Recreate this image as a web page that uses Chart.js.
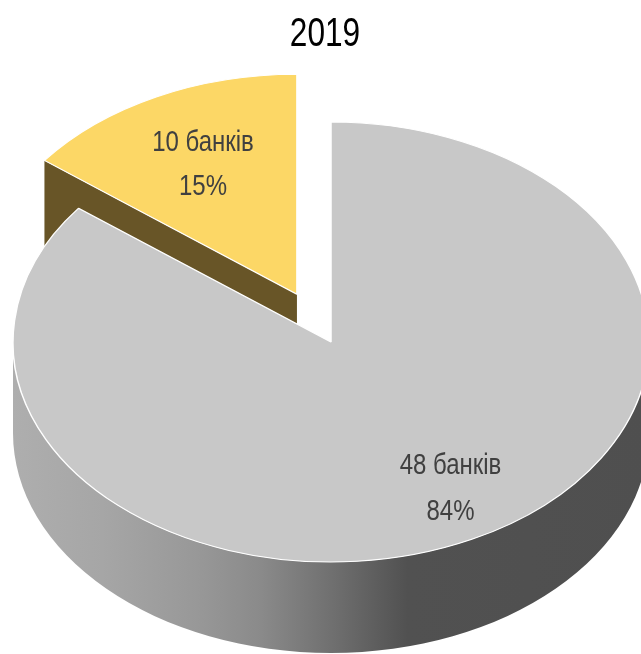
<!DOCTYPE html>
<html>
<head>
<meta charset="utf-8">
<title>2019</title>
<script src="https://cdn.jsdelivr.net/npm/chart.js@4/dist/chart.umd.min.js"></script>
<style>
html, body { margin: 0; padding: 0; background: #fff; overflow: hidden; }
#wrap { width: 641px; height: 654px; }
</style>
</head>
<body>
<div id="wrap"><canvas id="pieChart"></canvas></div>
<script>
// ======================
// DATA
// ======================

const title = "2019";
const banks = [10, 48];
const percents = [15, 84];
const shares = [14.6, 85.4];   // slice sizes as measured on the picture
const sliceColors = ["#fcd766", "#c8c8c8"];

// ======================
// 3D LOOK
// ======================

const radius = 318;
const squash = 0.692;      // ellipse height / width
const depth = 91;          // height of the pie wall
const screenCy = 342;      // where the pie centre lands on the page
const explode = 77;        // yellow slice pulled out along its middle angle
const sideColor = "#685527";
const textColor = "#404040";
const fontFamily = "'Liberation Sans', sans-serif";
const labelPlaces = [[203, 150.5, 194.5], [450.5, 473.5, 519.5]];

function toScreen(chart, x, y) {
    const cy = (chart.chartArea.top + chart.chartArea.bottom) / 2;
    return { x: x, y: screenCy + (y - cy) * squash };
}

// the reference font is a condensed one, so squeeze the text sideways
function narrowText(ctx, text, x, y, size, stretch, color) {
    ctx.save();
    ctx.translate(x, y);
    ctx.scale(stretch, 1);
    ctx.font = size + "px " + fontFamily;
    ctx.fillStyle = color;
    ctx.textAlign = "center";
    ctx.textBaseline = "alphabetic";
    ctx.fillText(text, 0, 0);
    ctx.restore();
}

const pie3d = {
    id: "pie3d",

    afterDatasetsUpdate(chart) {
        const arc = chart.getDatasetMeta(0).data[0];
        const mid = (arc.startAngle + arc.endAngle) / 2;
        arc.x += Math.cos(mid) * explode;
        arc.y += Math.sin(mid) * explode;
    },

    beforeDatasetsDraw(chart) {
        const ctx = chart.ctx;
        const arcs = chart.getDatasetMeta(0).data;
        const yellow = arcs[0];
        const grey = arcs[1];

        // wall of the yellow slice, along its left cut
        const apex = toScreen(chart, yellow.x, yellow.y);
        const tip = toScreen(
            chart,
            yellow.x + Math.cos(yellow.startAngle) * yellow.outerRadius,
            yellow.y + Math.sin(yellow.startAngle) * yellow.outerRadius
        );
        ctx.save();
        ctx.fillStyle = sideColor;
        ctx.beginPath();
        ctx.moveTo(tip.x, tip.y);
        ctx.lineTo(apex.x, apex.y);
        ctx.lineTo(apex.x, apex.y + depth);
        ctx.lineTo(tip.x, tip.y + depth);
        ctx.closePath();
        ctx.fill();

        // front wall of the big slice
        const c = toScreen(chart, grey.x, grey.y);
        const rx = grey.outerRadius;
        const ry = grey.outerRadius * squash;
        const g = ctx.createLinearGradient(c.x - rx, 0, c.x + rx, 0);
        g.addColorStop(0, "#aeaeae");
        g.addColorStop(0.14, "#a6a6a6");
        g.addColorStop(0.29, "#989898");
        g.addColorStop(0.39, "#8a8a8a");
        g.addColorStop(0.5, "#707070");
        g.addColorStop(0.62, "#515151");
        g.addColorStop(1, "#4f4f4f");
        ctx.fillStyle = g;
        ctx.beginPath();
        ctx.ellipse(c.x, c.y + depth, rx, ry, 0, 0, Math.PI);
        ctx.lineTo(c.x - rx, c.y);
        ctx.ellipse(c.x, c.y, rx, ry, 0, Math.PI, 0, true);
        ctx.closePath();
        ctx.fill();
        ctx.restore();

        // flatten the slices themselves
        const cy = (chart.chartArea.top + chart.chartArea.bottom) / 2;
        ctx.save();
        ctx.translate(0, screenCy);
        ctx.scale(1, squash);
        ctx.translate(0, -cy);
    },

    afterDatasetsDraw(chart) {
        const ctx = chart.ctx;
        ctx.restore();

        narrowText(ctx, title, 325, 46, 40, 0.79, "#000000");

        banks.forEach((count, i) => {
            const p = labelPlaces[i];
            narrowText(ctx, count + " банків", p[0], p[1], 30, 0.8, textColor);
            narrowText(ctx, percents[i] + "%", p[0], p[2], 30, 0.8, textColor);
        });
    }
};

// ======================
// PIE CHART
// ======================

new Chart(
    document.getElementById("pieChart"),
    {
        type: "pie",

        data: {

            labels:
            banks.map(count => count + " банків"),

            datasets: [{
                data: shares,
                backgroundColor: sliceColors,
                borderColor: "#ffffff",
                borderWidth: 1.5,
                clip: false
            }]
        },

        options: {
            responsive: true,
            maintainAspectRatio: false,
            animation: false,
            radius: radius,
            rotation: -(shares[0] / (shares[0] + shares[1])) * 360,
            layout: { padding: { left: 21 } },
            plugins: {
                legend: { display: false },
                tooltip: { enabled: false }
            }
        },

        plugins: [pie3d]
    }
);
</script>
</body>
</html>
